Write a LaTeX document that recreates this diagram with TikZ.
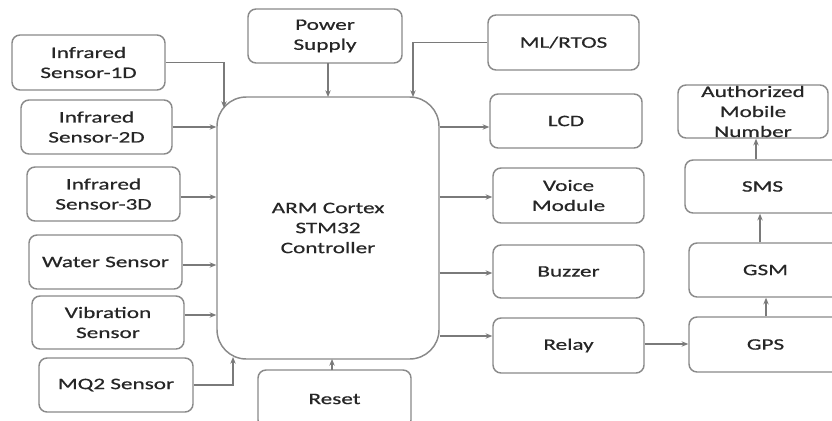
\documentclass[tikz,border=0pt]{standalone}
\usepackage{fontspec}
\setmainfont{Carlito}[FakeStretch=1.45,FakeBold=0.6]
\usetikzlibrary{arrows.meta,fit,calc}
\definecolor{boxc}{HTML}{8A8A8A}
\definecolor{linec}{HTML}{7A7A7A}
\definecolor{txtc}{HTML}{262626}
\tikzset{
 box/.style={draw=boxc, line width=1.1pt, rounded corners=6pt, inner sep=0pt},
 txt/.style={align=center, text=txtc, font=\fontsize{12}{15}\selectfont, inner sep=0pt},
 arr/.style={draw=linec, line width=1pt, -{Stealth[length=5pt,width=4pt]}},
}
\newcommand\blk[6]{\node[box,fit={(#2,#3) (#4,#5)}] (#1) {}; \node[txt] (#1-t) at (#1.center) {#6};}
\begin{document}
\begin{tikzpicture}[x=0.75pt,y=-0.75pt]
\useasboundingbox (0,0) rectangle (832,421);
\clip (0,0) rectangle (832,421);
\fill[white] (0,0) rectangle (832,421);
% controller
\node[box, rounded corners=22pt, fit={(217,97) (439,359)}] (ctl) {};
\node[txt] (ctl-t) at (ctl.center) {ARM Cortex\\STM32\\Controller};
% inputs
\blk{ir1}{12}{35}{165}{90}{Infrared\\Sensor-1D}
\blk{ir2}{21}{100}{172}{154}{Infrared\\Sensor-2D}
\blk{ir3}{27}{167}{180}{221}{Infrared\\Sensor-3D}
\blk{water}{29}{235}{182}{289}{Water Sensor}
\blk{vib}{32}{296}{184}{349}{Vibration\\Sensor}
\blk{mq2}{39}{358}{193}{412}{MQ2 Sensor}
\blk{ps}{248}{9}{402}{63}{Power\\Supply}
\blk{rst}{258}{370}{411}{428}{Reset}
\blk{ml}{488}{15}{639}{70}{ML/RTOS}
% outputs
\blk{lcd}{490}{94}{642}{148}{LCD}
\blk{voice}{493}{168}{644}{223}{Voice\\Module}
\blk{buz}{493}{245}{644}{298}{Buzzer}
\blk{relay}{493}{318}{644}{373}{Relay}
\blk{gps}{689}{317}{842}{372}{GPS}
\blk{gsm}{689}{243}{842}{297}{GSM}
\blk{sms}{685}{160}{840}{213}{SMS}
\blk{auth}{678}{85}{828}{138}{Authorized\\Mobile\\Number}
% coordinates
\coordinate (cin1) at (224,108);
\coordinate (cin6) at (233,357);
\coordinate (cml) at (413,97);
% connectors
\draw[arr] (ir1.east) -| (cin1);
\draw[arr] (ir2.east) -- (ctl.west |- ir2.east);
\draw[arr] (ir3.east |- 0,197) -- (ctl.west |- 0,197);
\draw[arr] (water.east |- 0,265) -- (ctl.west |- 0,265);
\draw[arr] (vib.east |- 0,315) -- (ctl.west |- 0,315);
\draw[arr] (mq2.east) -| (cin6);
\draw[arr] (328,63) -- (328,97);
\draw[arr] (ml.west) -| (cml);
\draw[arr] (332,370) -- (332,359);
\draw[arr] (ctl.east |- 0,127) -- (lcd.west |- 0,127);
\draw[arr] (ctl.east |- 0,197) -- (voice.west |- 0,197);
\draw[arr] (ctl.east |- 0,273) -- (buz.west |- 0,273);
\draw[arr] (ctl.east |- 0,336) -- (relay.west |- 0,336);
\draw[arr] (relay.east |- 0,344) -- (gps.west |- 0,344);
\draw[arr] (gps.north -| 766,0) -- (gsm.south -| 766,0);
\draw[arr] (gsm.north -| 760,0) -- (sms.south -| 760,0);
\draw[arr] (sms.north -| 756,0) -- (auth.south -| 756,0);
\end{tikzpicture}
\end{document}
